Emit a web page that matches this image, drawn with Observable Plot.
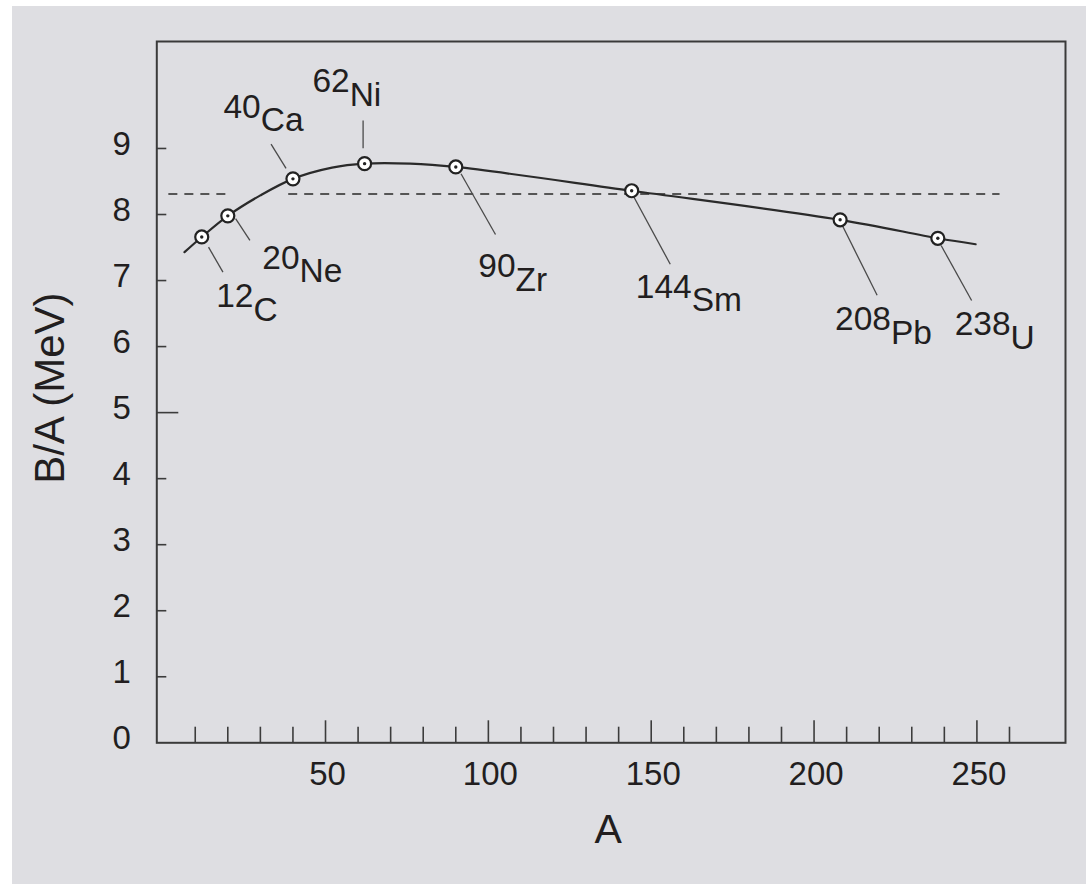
<!DOCTYPE html>
<html>
<head>
<meta charset="utf-8">
<script src="https://cdn.jsdelivr.net/npm/d3@7"></script>
<script src="https://cdn.jsdelivr.net/npm/@observablehq/plot@0.6"></script>
<style>
  html, body { margin: 0; padding: 0; background: #ffffff; }
  #panel { position: absolute; left: 12px; top: 6px; width: 1074px; height: 878px; background: #dedee2; }
  #panel svg { display: block; background: transparent; }
</style>
</head>
<body>
<div id="panel"></div>
<script>
// Marked nuclides: mass number A, element symbol, binding energy per nucleon (MeV)
const massNumbers = [12, 20, 40, 62, 90, 144, 208, 238];
const elements = ["C", "Ne", "Ca", "Ni", "Zr", "Sm", "Pb", "U"];
const bindingPerNucleon = [7.66, 7.98, 8.54, 8.77, 8.72, 8.36, 7.92, 7.64];

// Smooth trend curve through the nuclides
const curveA = [6.7, 12, 20, 30, 40, 52, 62, 76, 90, 144, 208, 238, 249.6];
const curveBA = [7.43, 7.66, 7.98, 8.29, 8.54, 8.71, 8.77, 8.77, 8.72, 8.36, 7.92, 7.64, 7.55];

// Dashed reference level and the spans it is drawn over
const dashedLevel = 8.31;
const dashedFrom = [1.9, 38.7];
const dashedTo = [20.3, 257.1];

// Axis ticks
const xLabelTicks = [50, 100, 150, 200, 250];
const xAllTicks = [10, 20, 30, 40, 50, 60, 70, 80, 90, 100, 110, 120, 130, 140, 150,
                   160, 170, 180, 190, 200, 210, 220, 230, 240, 250, 260];
const yLabelTicks = [0, 1, 2, 3, 4, 5, 6, 7, 8, 9];
const yMarkTicks = [1, 2, 3, 4, 5, 6, 7, 8, 9];

// Leader line (x1, y1, x2, y2) and label anchor (left, mass-number baseline),
// in pixels relative to each marker
const labelLayout = {
  C:  { leader: [7.3, 10.7, 21.7, 35.7],    text: [15, 70.7] },
  Ne: { leader: [8.3, 3.3, 22.6, 25],       text: [35, 53.3] },
  Ca: { leader: [-21.4, -34.3, -6.4, -10],  text: [-69, -60.6] },
  Ni: { leader: [-1, -42.7, -1, -15],       text: [-51.7, -71] },
  Zr: { leader: [5.7, 7.3, 40.2, 68],       text: [23, 111] },
  Sm: { leader: [2.7, 6.7, 39.1, 74],       text: [4.7, 107.3] },
  Pb: { leader: [3, 6.7, 37.5, 76],         text: [-4.6, 111] },
  U:  { leader: [3.8, 7.7, 34.3, 62.7],     text: [17.3, 97.7] }
};

const FONT = '"Liberation Sans", Arial, Helvetica, sans-serif';
const INK = "#221e1f";
const W = 1074, H = 878;
const M = { left: 144.3, right: 21, top: 35, bottom: 141.7 };
const plotW = W - M.left - M.right;
const plotH = H - M.top - M.bottom;

const nuclides = massNumbers.map((A, i) => ({ A, el: elements[i], BA: bindingPerNucleon[i] }));
const curve = curveA.map((A, i) => ({ A, BA: curveBA[i] }));
const dashed = dashedFrom.map((x1, i) => ({ x1, x2: dashedTo[i], y: dashedLevel }));

// Leader lines and "mass number raised, symbol lowered" labels
function nuclideLabels(index, scales) {
  const g = d3.create("svg:g")
    .attr("font-family", FONT)
    .attr("font-size", 33.5)
    .attr("text-anchor", "start")
    .attr("fill", INK);
  for (const d of nuclides) {
    const cx = scales.x(d.A), cy = scales.y(d.BA);
    const L = labelLayout[d.el];
    g.append("line")
      .attr("x1", cx + L.leader[0]).attr("y1", cy + L.leader[1])
      .attr("x2", cx + L.leader[2]).attr("y2", cy + L.leader[3])
      .attr("stroke", "#4a4a4a").attr("stroke-width", 1.3);
    const t = g.append("text")
      .attr("x", cx + L.text[0]).attr("y", cy + L.text[1]);
    t.append("tspan").text(d.A);
    t.append("tspan").attr("dy", 13.5).text(d.el);
  }
  return g.node();
}

const chart = Plot.plot({
  width: W,
  height: H,
  marginLeft: M.left,
  marginRight: M.right,
  marginTop: M.top,
  marginBottom: M.bottom,
  style: { background: "transparent", fontFamily: FONT, color: INK, fontSize: "33px", overflow: "visible" },
  x: { domain: [-1.8, 277.2], axis: null },
  y: { domain: [0, 10.62], axis: null },
  marks: [
    // inward ticks along the bottom axis (longer at multiples of 50)
    Plot.ruleX(xAllTicks.filter(v => v % 50 !== 0), { x: d => d, insetTop: plotH - 15.6, stroke: "#3c3c3c", strokeWidth: 1.6 }),
    Plot.ruleX(xAllTicks.filter(v => v % 50 === 0), { x: d => d, insetTop: plotH - 22, stroke: "#3c3c3c", strokeWidth: 1.6 }),
    // inward ticks along the left axis (longer at 5)
    Plot.ruleY(yMarkTicks.filter(v => v !== 5), { y: d => d, insetRight: plotW - 10, stroke: "#3c3c3c", strokeWidth: 1.6 }),
    Plot.ruleY(yMarkTicks.filter(v => v === 5), { y: d => d, insetRight: plotW - 22, stroke: "#3c3c3c", strokeWidth: 1.6 }),
    Plot.frame({ stroke: "#3a3a3a", strokeWidth: 2 }),
    Plot.axisX({ ticks: xLabelTicks, tickSize: 0, tickPadding: 19, tickFormat: d => String(d), label: null, fontSize: 33, dx: 2 }),
    Plot.axisY({ ticks: yLabelTicks, tickSize: 0, tickPadding: 26, tickFormat: d => String(d), label: null, fontSize: 33, dy: -4 }),
    Plot.text(["A"], { frameAnchor: "bottom", text: d => d, dy: 100, dx: -3, fontSize: 41, fill: INK }),
    Plot.text(["B/A (MeV)"], { frameAnchor: "left", textAnchor: "middle", text: d => d, rotate: -90, dx: -106.3, dy: -4, fontSize: 42, fill: INK }),
    // dashed reference level
    Plot.ruleY(dashed, { y: "y", x1: "x1", x2: "x2", stroke: "#555555", strokeWidth: 2, strokeDasharray: "9,7" }),
    // trend curve
    Plot.line(curve, { x: "A", y: "BA", curve: "catmull-rom", stroke: "#2a2a2a", strokeWidth: 2.2 }),
    nuclideLabels,
    // open markers with a centre dot
    Plot.dot(nuclides, { x: "A", y: "BA", r: 6.5, fill: "white", stroke: "#222222", strokeWidth: 2.2 }),
    Plot.dot(nuclides, { x: "A", y: "BA", r: 1.7, fill: "#222222" })
  ]
});

document.getElementById("panel").appendChild(chart);
</script>
</body>
</html>
